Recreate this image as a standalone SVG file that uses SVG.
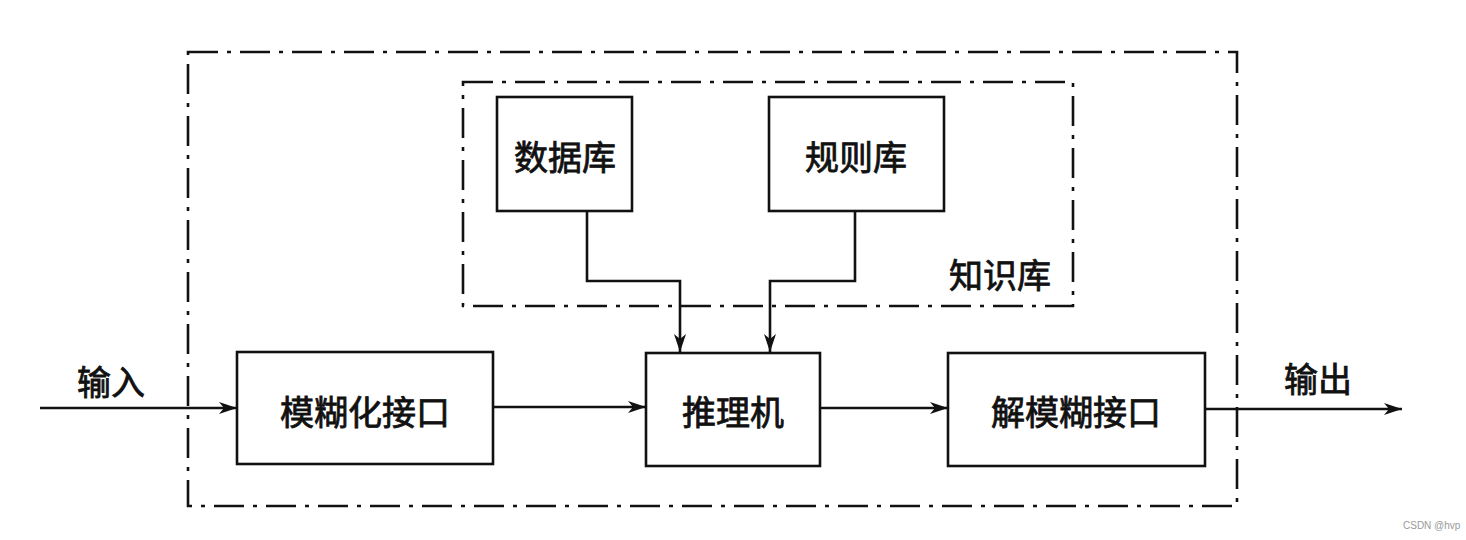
<svg xmlns="http://www.w3.org/2000/svg" width="1466" height="540" viewBox="0 0 1466 540">
<style>
.dd{fill:none;stroke:#111;stroke-width:2.6;stroke-dasharray:30 9 4 9}
.box{fill:#fff;stroke:#111;stroke-width:2.6}
.ln{fill:none;stroke:#111;stroke-width:2.6}
.t{font-family:"Noto Sans CJK SC","Noto Sans",sans-serif;font-size:34px;font-weight:normal;fill:#111;stroke:#111;stroke-width:0.8;text-anchor:middle;dominant-baseline:central}
.wm{font-family:"Liberation Sans",sans-serif;font-size:10px;fill:#999}
</style>
<defs>
<marker id="arr" markerWidth="20" markerHeight="12" refX="18" refY="6" orient="auto" markerUnits="userSpaceOnUse">
<path d="M0,0 L18,6 L0,12 L5,6 Z" fill="#111"/>
</marker>
</defs>
<rect width="1466" height="540" fill="#fff"/>
<g id="system-boundary"><rect class="dd" x="188" y="52" width="1049" height="454"/></g>
<g id="knowledge-base"><rect class="dd" x="463" y="82" width="610" height="224"/><text class="t" x="1000" y="273">知识库</text></g>
<g id="connectors">
<polyline class="ln" points="587,211 587,281 680,281 680,352" marker-end="url(#arr)"/>
<polyline class="ln" points="855,211 855,281 770,281 770,352" marker-end="url(#arr)"/>
<line class="ln" x1="40" y1="408" x2="237" y2="408" marker-end="url(#arr)"/>
<line class="ln" x1="493" y1="407" x2="646" y2="407" marker-end="url(#arr)"/>
<line class="ln" x1="820" y1="408" x2="948" y2="408" marker-end="url(#arr)"/>
<line class="ln" x1="1205" y1="409" x2="1402" y2="409" marker-end="url(#arr)"/>
</g>
<g id="database"><rect class="box" x="497" y="97" width="135" height="114"/><text class="t" x="565" y="155">数据库</text></g>
<g id="rulebase"><rect class="box" x="769" y="97" width="175" height="114"/><text class="t" x="856" y="155">规则库</text></g>
<g id="fuzzifier"><rect class="box" x="237" y="352" width="256" height="112"/><text class="t" x="365" y="410">模糊化接口</text></g>
<g id="inference"><rect class="box" x="646" y="353" width="174" height="113"/><text class="t" x="733" y="410">推理机</text></g>
<g id="defuzzifier"><rect class="box" x="948" y="353" width="257" height="113"/><text class="t" x="1076" y="410">解模糊接口</text></g>
<g id="labels">
<text class="t" x="111" y="380">输入</text>
<text class="t" x="1318" y="377">输出</text>
<text class="wm" x="1403" y="529">CSDN @hvp</text>
</g>
</svg>
